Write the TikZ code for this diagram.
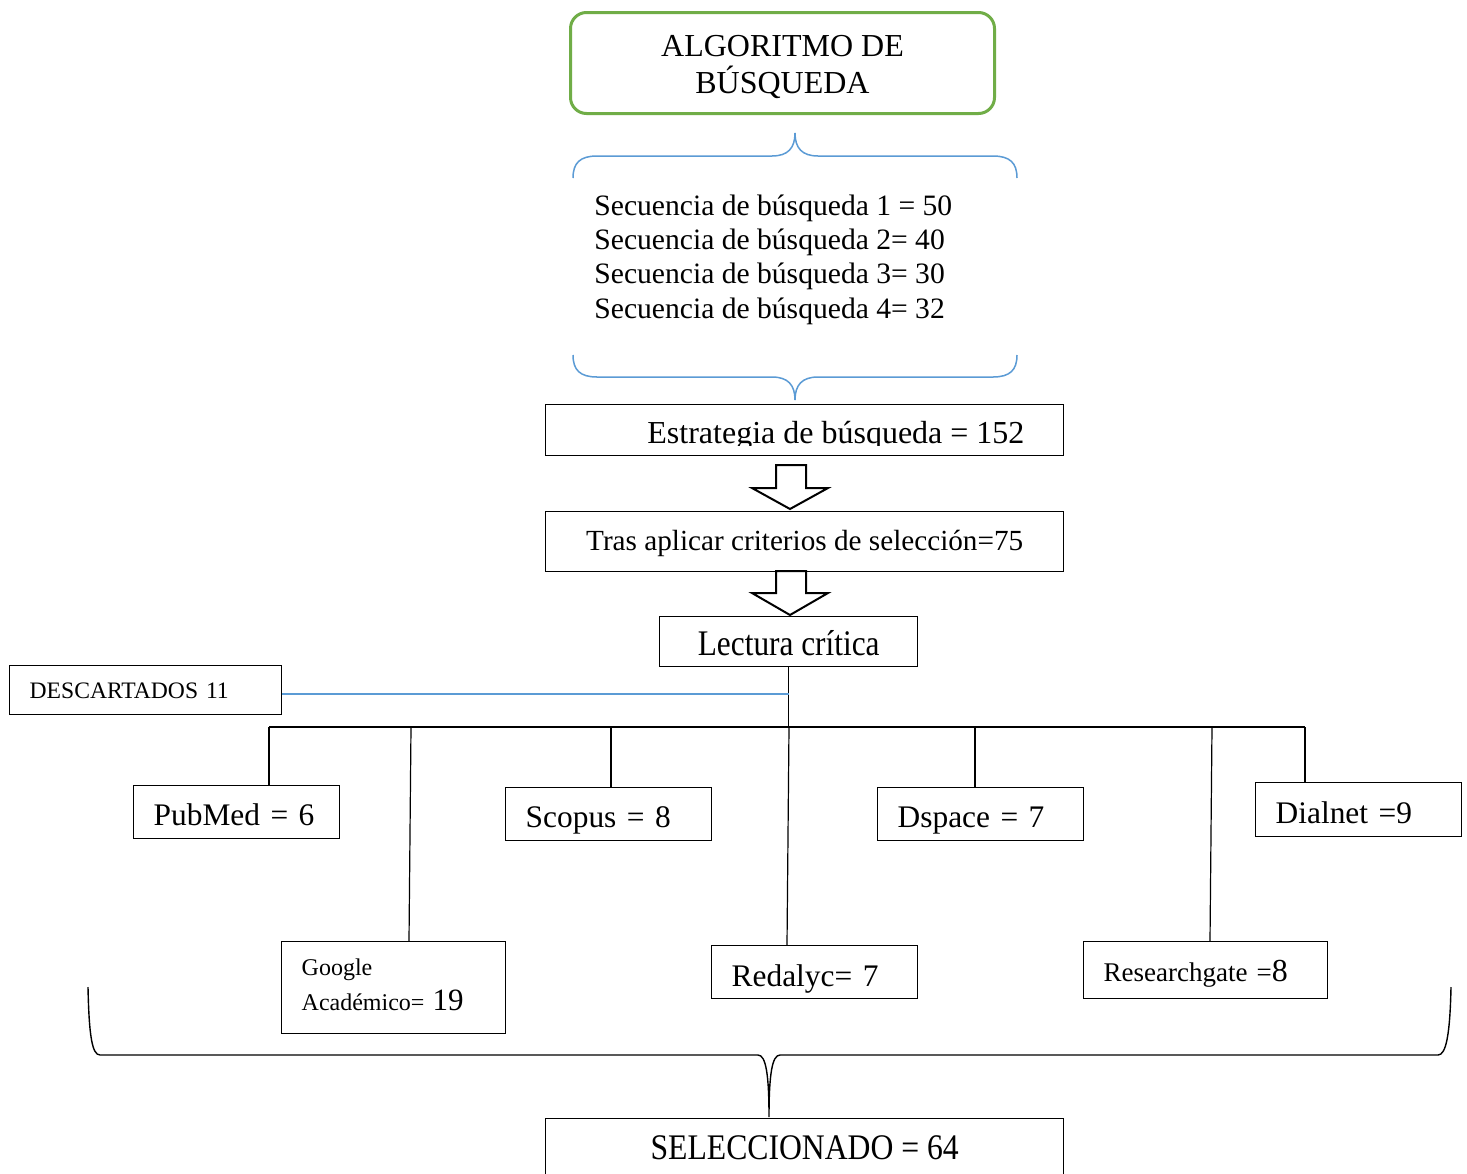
\documentclass[tikz,border=0pt]{standalone}
\usepackage{fontspec}
\setmainfont{Liberation Serif}
\usepackage{graphicx}
\usetikzlibrary{calc}
\definecolor{brgreen}{HTML}{70AD47}
\definecolor{brblue}{HTML}{5B9BD5}
\begin{document}
\begin{tikzpicture}[x=0.5pt,y=-0.5pt,
  box/.style={draw, line width=0.7pt, anchor=north west, inner ysep=0pt, inner xsep=10pt, text depth=0pt},
  lbox/.style={box, align=left},
  cbox/.style={box, align=center, inner xsep=0pt},
  f16/.style={font=\fontsize{15.7}{19}\selectfont},
  brace/.style={line width=0.75pt, brblue},
  blockarrow/.style={draw, line width=1pt, line join=miter, fill=white}
]
\fill[white] (0,0) rectangle (1467,1173);
\useasboundingbox (0,0) rectangle (1467,1173);

% title
\node[draw=brgreen, line width=1.5pt, rounded corners=8pt, anchor=north west,
      minimum width=212pt, minimum height=50.5pt, inner sep=0pt,
      text height=0pt, text depth=6.5pt, font=\fontsize{16}{18.35}\selectfont]
  (algo) at (569,11) {\begin{tabular}[t]{@{}c@{}}ALGORITMO DE\\\smash{BÚSQUEDA}\end{tabular}};

% braces around sequences
\draw[brace] (573,178) .. controls (573,163) and (580,156) .. (597,156) -- (772,156)
  .. controls (788,156) and (795,148) .. (795,133)
  .. controls (795,148) and (802,156) .. (818,156) -- (993,156)
  .. controls (1010,156) and (1017,163) .. (1017,178);
\draw[brace] (573,355) .. controls (573,370) and (580,377) .. (597,377) -- (772,377)
  .. controls (788,377) and (795,385) .. (795,400)
  .. controls (795,385) and (802,377) .. (818,377) -- (993,377)
  .. controls (1010,377) and (1017,370) .. (1017,355);

\node[anchor=base west, inner sep=0pt, font=\fontsize{14.8}{17.2}\selectfont] (seq) at (594,215)
  {\begin{tabular}[t]{@{}l@{}}Secuencia de búsqueda 1 = 50\\Secuencia de búsqueda 2= 40\\Secuencia de búsqueda 3= 30\\Secuencia de búsqueda 4= 32\end{tabular}};

% estrategia
\node[box, minimum width=259pt, minimum height=25.5pt] (estr) at (545,404) {};
\begin{scope}
  \clip (545,404) rectangle (1063,445);
  \node[anchor=base west, inner sep=0pt, font=\fontsize{16}{19}\selectfont] (estrT) at (647,443) {Estrategia de búsqueda = 152};
\end{scope}

% block arrows
\draw[blockarrow] (776,465) -- (806,465) -- (806,488) -- (828,488) -- (790,509) -- (752,488) -- (776,488) -- cycle;

\node[cbox, minimum width=259pt, minimum height=30pt, text height=9pt,
      font=\fontsize{14.6}{17}\selectfont] (tras) at (545,511) {Tras aplicar criterios de selección=75};

\draw[blockarrow] (776,571) -- (806,571) -- (806,593) -- (828,593) -- (790,615) -- (752,593) -- (776,593) -- cycle;

\node[cbox, minimum width=129pt, minimum height=25pt, text height=14pt,
      font=\fontsize{18}{22}\selectfont] (lect) at (659,616) {\scalebox{0.87}[1]{Lectura crítica}};

\node[lbox, minimum width=136pt, minimum height=24.5pt, text width=116pt, text height=8.5pt,
      font=\fontsize{11.8}{13}\selectfont] (desc) at (9,665) {DESCARTADOS 11};

% sources
\node[lbox, f16, minimum width=103pt, minimum height=26.5pt, text width=83pt, text height=13pt] (pub) at (133,785) {PubMed = 6};
\node[lbox, f16, minimum width=103pt, minimum height=26.5pt, text width=83pt, text height=13.5pt] (sco) at (505,787) {Scopus = 8};
\node[lbox, f16, minimum width=103pt, minimum height=26.5pt, text width=83pt, text height=13.5pt] (dsp) at (877,787) {Dspace = 7};
\node[lbox, f16, minimum width=103pt, minimum height=27pt, text width=83pt, text height=14pt] (dia) at (1255,782) {Dialnet =9};
\node[lbox, minimum width=112pt, minimum height=46pt, text width=92pt, text height=0pt, text depth=12pt,
      font=\fontsize{12}{17.5}\selectfont] (goo) at (281,941)
  {\begin{tabular}[t]{@{}l@{}}Google\\Académico= {\fontsize{15.5}{17.5}\selectfont 19}\end{tabular}};
\node[lbox, f16, minimum width=103pt, minimum height=26.5pt, text width=83pt, text height=14.5pt] (red) at (711,945) {Redalyc= 7};
\node[lbox, minimum width=122pt, minimum height=28.5pt, text width=102pt, text height=11pt,
      font=\fontsize{13.5}{16}\selectfont] (res) at (1083,941) {Researchgate =\fontsize{16}{19}\selectfont 8};

\node[cbox, minimum width=259pt, minimum height=36pt, text height=5pt, text depth=0pt,
      font=\fontsize{18}{22}\selectfont] (sel) at (545,1118) {\scalebox{0.88}[1]{SELECCIONADO = 64}};

% tree connectors
\coordinate (b0) at (269,727);
\coordinate (b1) at (411,727);
\coordinate (b2) at (611,727);
\coordinate (b3) at (789,727);
\coordinate (b4) at (975,727);
\coordinate (b5) at (1212,727);
\coordinate (b6) at (1305,727);
\begin{scope}[line width=0.6pt]
\draw (lect.south) -- (lect.south |- b0);
\draw (b0) -- (b6);
\draw (b0) -- (b0 |- pub.north);
\draw (b1) -- ($(b1 |- goo.north)+(-2,0)$);
\draw (b2) -- (b2 |- sco.north);
\draw (b3) -- ($(b3 |- red.north)+(-2,0)$);
\draw (b4) -- (b4 |- dsp.north);
\draw (b5) -- ($(b5 |- res.north)+(-2,0)$);
\draw (b6) -- (b6 |- dia.north);
\end{scope}
\draw[brblue, line width=0.8pt] ($(desc.east)+(0,3.5)$) -- ($(desc.east -| lect.south)+(0,3.5)$);

% bottom brace
\coordinate (tip) at (769,1117);
\draw[line width=0.7pt] (88,987) .. controls (89,1035) and (92,1055) .. (100,1055) -- (758,1055)
  .. controls (766,1055) and (769,1075) .. (tip)
  .. controls (769,1075) and (772,1055) .. (780,1055) -- (1438,1055)
  .. controls (1446,1055) and (1450,1035) .. (1451,987);
\end{tikzpicture}
\end{document}
